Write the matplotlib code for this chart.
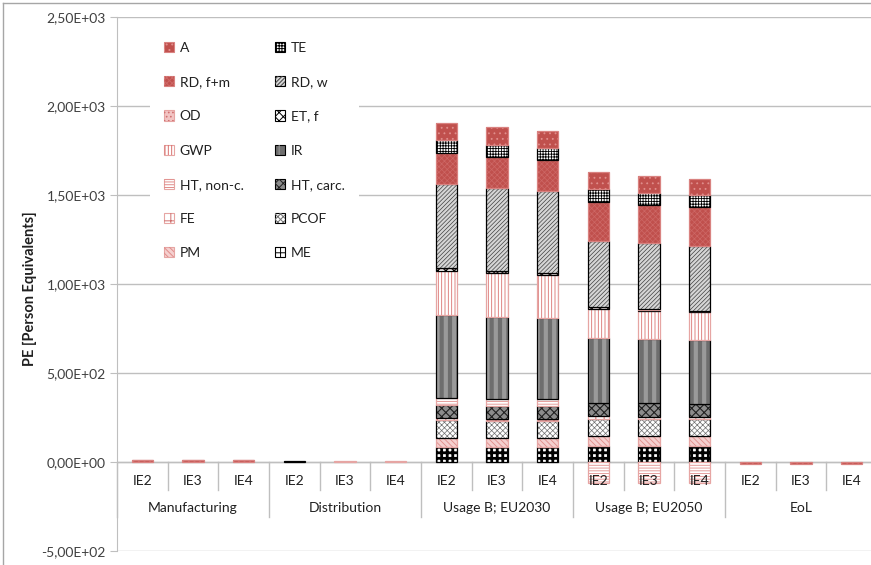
import matplotlib
matplotlib.use('Agg')
import numpy as np
import matplotlib.pyplot as plt
from matplotlib.patches import Patch
from matplotlib.lines import Line2D

plt.rcParams['font.family'] = ['Lato', 'DejaVu Sans']
plt.rcParams['hatch.linewidth'] = 0.7

groups = ['Manufacturing', 'Distribution', 'Usage B; EU2030', 'Usage B; EU2050', 'EoL']
motors = ['IE2', 'IE3', 'IE4']

# one value per bar: Manufacturing IE2-IE4, Distribution, Usage 2030, Usage 2050, EoL
me      = [0, 0, 0, 0, 0, 0, 86, 84, 83, 92, 92, 92, 0, 0, 0]
pm      = [0, 0, 0, 0, 0, 0, 51, 50, 52, 52, 52, 52, 0, 0, 0]
pcof    = [0, 0, 0, 0, 0, 0, 99, 99, 97, 96, 96, 96, 0, 0, 0]
fe      = [0, 0, 0, 0, 0, 0, 9, 10, 11, 18, 15, 15, 0, 0, 0]
ht_carc = [0, 0, 0, 0, 0, 0, 75, 72, 72, 74, 75, 71, 0, 0, 0]
ht_nonc = [0, 0, 0, 0, 0, 0, 38, 38, 37, -120, -118, -118, 0, 0, 0]
ir      = [0, 0, 0, 3, 0, 0, 468, 462, 455, 367, 363, 359, 0, 0, 0]
gwp     = [0, 0, 0, 0, 3, 3, 249, 244, 242, 163, 155, 156, 0, 0, 0]
et_f    = [0, 0, 0, 0, 0, 0, 13, 13, 13, 6, 8, 5, 0, 0, 0]
od      = [0, 0, 0, 0, 0, 0, 2, 2, 2, 2, 2, 2, 0, 0, 0]
rd_w    = [0, 0, 0, 0, 0, 0, 474, 464, 460, 373, 371, 365, 0, 0, 0]
rd_fm   = [9, 9, 9, 0, 0, 0, 172, 173, 173, 219, 213, 218, -11, -11, -11]
te      = [0, 0, 0, 0, 0, 0, 71, 71, 69, 70, 71, 69, 0, 0, 0]
a       = [4, 4, 4, 0, 0, 0, 98, 98, 96, 99, 94, 90, 0, 0, 0]

# stacking order, bottom to top
series = [('ME', me), ('PM', pm), ('PCOF', pcof), ('FE', fe), ('HT, carc.', ht_carc),
          ('HT, non-c.', ht_nonc), ('IR', ir), ('GWP', gwp), ('ET, f', et_f),
          ('OD', od), ('RD, w', rd_w), ('RD, f+m', rd_fm), ('TE', te), ('A', a)]

RED = '#C0504D'
PINK = '#E6A5A3'
# face, hatch, hatch colour, edge, hatch width
styles = {
    'A':          (RED, '...', '#E08E8C', '#D98280', 0.6),
    'TE':         ('white', '++++++', '#000000', '#000000', 0.6),
    'RD, f+m':    (RED, 'xxxxxx', '#CD6866', '#D98280', 0.5),
    'RD, w':      ('#D6D6D6', '////////', '#404040', '#000000', 0.5),
    'OD':         ('#F2C4C3', '....', '#D07070', PINK, 0.7),
    'ET, f':      ('white', 'xxxx', '#000000', '#000000', 1.0),
    'GWP':        ('white', '|||||', '#D9706E', PINK, 0.6),
    'IR':         ('#6E6E6E', '||', '#9A9A9A', '#000000', 3.0),
    'HT, non-c.': ('white', '------', '#E08C8A', PINK, 0.6),
    'HT, carc.':  ('#8C8C8C', 'xxxx', '#202020', '#000000', 0.8),
    'FE':         ('white', '++', '#D0706E', PINK, 0.8),
    'PCOF':       ('white', 'xxxxxx', '#707070', '#000000', 0.5),
    'PM':         ('#F5D0CF', '\\\\\\\\\\\\', '#E08C8A', PINK, 0.6),
    'ME':         ('white', '+++', '#000000', '#000000', 2.0),
}

x = np.arange(15)
width = 0.42
to_pe = 500 / 89.0  # data units per pixel

fig = plt.figure(figsize=(8.71, 5.65), dpi=100)
ax = fig.add_axes([117 / 871, 14 / 565, 760 / 871, 534 / 565])

pos = np.zeros(15)
neg = np.zeros(15)
for name, vals in series:
    v = np.array(vals, dtype=float)
    face, hatch, hc, edge, hlw = styles[name]
    bottom = np.where(v >= 0, pos, neg)
    m = v != 0
    ax.bar(x[m], v[m], width, bottom=bottom[m], color=face, linewidth=0, zorder=3)
    with plt.rc_context({'hatch.linewidth': hlw}):
        hb = ax.bar(x[m], v[m], width, bottom=bottom[m], color='none', hatch=hatch,
                    edgecolor=hc, linewidth=0, zorder=3)
        for p in hb:
            if hasattr(p, 'set_hatch_linewidth'):
                p.set_hatch_linewidth(hlw)
    ax.bar(x[m], v[m], width, bottom=bottom[m], fill=False, edgecolor=edge,
           linewidth=0.9, zorder=3)
    pos = np.where(v > 0, pos + v, pos)
    neg = np.where(v < 0, neg + v, neg)

ax.set_xlim(-0.5, 14.5)
ax.set_ylim(-500, 2500)
ax.set_yticks(np.arange(-500, 2501, 500))
ax.set_yticklabels([('%.2E' % t).replace('.', ',') for t in np.arange(-500, 2501, 500)],
                   fontsize=10, color='#404040')
ax.yaxis.grid(True, color='#BFBFBF', linewidth=1, zorder=0)
ax.set_axisbelow(True)
ax.tick_params(axis='y', length=5, color='#BFBFBF', pad=3)
ax.set_xticks([])
for s in ['top', 'right', 'bottom']:
    ax.spines[s].set_visible(False)
ax.spines['left'].set_color('#BFBFBF')
ax.axhline(0, color='#BFBFBF', linewidth=1, zorder=2)

# two-level category axis
for i in range(15):
    sep = i - 0.5
    depth = 55 if i % 3 == 0 else 28
    ax.plot([sep, sep], [0, -depth * to_pe], color='#BFBFBF', linewidth=1,
            clip_on=False, zorder=1)
    ax.text(i, -19 * to_pe, motors[i % 3], ha='center', va='center', fontsize=10,
            color='#202020')
for g, name in enumerate(groups):
    ax.text(3 * g + 1, -46 * to_pe, name, ha='center', va='center', fontsize=10,
            color='#202020')

fig.text(30 / 871, 0.49, 'PE [Person Equivalents]', rotation=90, ha='center',
         va='center', fontsize=10.5, fontweight='bold', color='#202020')

# legend in two columns, filled column by column
left_col = ['A', 'RD, f+m', 'OD', 'GWP', 'HT, non-c.', 'FE', 'PM']
right_col = ['TE', 'RD, w', 'ET, f', 'IR', 'HT, carc.', 'PCOF', 'ME']
handles = []
labels = []
for name in left_col + right_col:
    face, hatch, hc, edge, hlw = styles[name]
    handles.append((Patch(facecolor=face, edgecolor=edge, linewidth=0.8),
                    Patch(facecolor='none', hatch=hatch, edgecolor=hc, linewidth=0)))
    labels.append(name)
leg = ax.legend(handles, labels, ncol=2, loc='upper left',
                bbox_to_anchor=(33 / 760, (551 - 28) / 534), borderaxespad=0,
                frameon=True, fancybox=False, framealpha=1, edgecolor='none',
                facecolor='white', fontsize=10, handlelength=0.75, handleheight=0.75,
                handletextpad=0.4, labelspacing=1.6, columnspacing=2.25,
                borderpad=1.0)
leg.set_zorder(5)
for t in leg.get_texts():
    t.set_color('#202020')

# chart area border
fig.add_artist(Line2D([2.5 / 871, 2.5 / 871], [0, 1 - 2.5 / 565], color='#A6A6A6',
                      linewidth=1, transform=fig.transFigure))
fig.add_artist(Line2D([2.5 / 871, 1], [1 - 2.5 / 565, 1 - 2.5 / 565], color='#A6A6A6',
                      linewidth=1, transform=fig.transFigure))

fig.savefig('out.png', dpi=100)
